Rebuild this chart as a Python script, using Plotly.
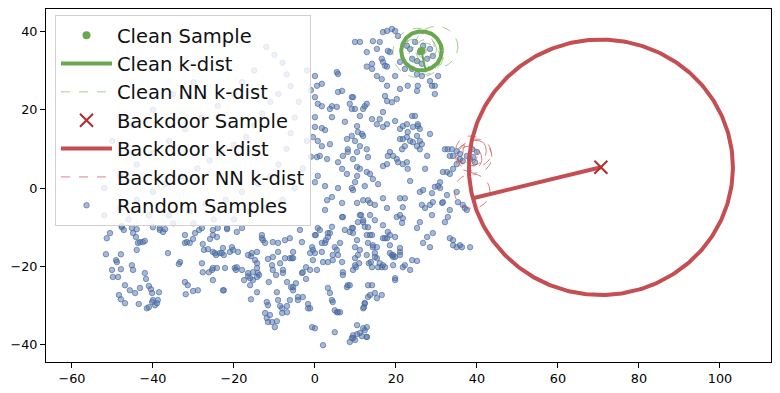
import numpy as np
import plotly.graph_objects as go

# ---------------- data ----------------
random_samples = [
    # lower-left cluster
    (-51.6,-16.9),(-50.1,-20.9),(-49.9,-22.7),(-48.6,-22.7),(-49.1,-18.4),(-48.9,-18.9),(-47.9,-16.9),
    (-47.9,-20.7),(-46.9,-24.8),(-45.7,-26.1),(-44.4,-26.8),(-48.4,-27.3),(-47.9,-28.4),(-46.9,-29.4),
    (-45.2,-19.7),(-44.9,-20.9),(-43.5,-29.6),(-43.2,-25.5),(-42.0,-21.7),(-41.7,-23.2),(-41.0,-25.0),
    (-40.5,-25.8),(-40.2,-26.8),(-41.5,-30.7),(-41.0,-30.4),(-40.2,-29.1),(-40.0,-28.6),(-39.5,-29.9),
    (-39.0,-29.4),(-38.8,-28.6),(-38.5,-26.6),(-51.4,-12.8),(-50.6,-11.5),(-47.7,-9.7),(-47.2,-10.7),
    (-44.9,-11.5),(-44.2,-12.5),(-44.0,-10.5),(-43.7,-14.0),(-43.2,-13.8),(-42.5,-13.8),(-42.0,-13.5),
    (-44.0,-15.8),(-38.3,-10.7),(-37.5,-11.2),(-37.0,-10.5),(-36.3,-16.6),(-33.3,-18.9),(-33.6,-19.4),
    (-32.1,-12.0),(-32.1,-14.0),(-31.6,-13.8),(-30.9,-14.0),(-29.6,-11.5),(-30.1,-13.0),(-32.1,-24.0),
    (-31.4,-24.8),(-31.9,-27.1),(-30.1,-26.3),(-28.9,-26.1),(-28.6,-10.7),(-27.9,-10.2),(-27.7,-14.3),
    (-27.4,-15.8),(-27.9,-19.2),(-27.7,-21.5),(-25.9,-13.0),(-25.2,-10.7),(-25.2,-12.0),(-26.4,-15.6),
    (-25.2,-16.3),(-24.4,-17.1),(-25.4,-20.9),(-26.2,-21.5),(-25.2,-20.4),(-24.2,-20.4),(-25.2,-23.5),
    (-23.5,-16.6),(-22.5,-17.1),(-21.7,-10.5),(-21.0,-16.3),(-20.2,-15.8),(-19.8,-20.4),(-19.5,-20.9),
    (-22.5,-26.1),(-19.3,-11.2),(-19.0,-16.3),(-47.7,-10.0),(-45.2,-10.2),(-38.3,-10.2),(-24.2,-12.5),
    # lower-middle
    (-15.8,-17.4),(-14.8,-18.4),(-14.3,-19.2),(-14.3,-20.4),(-15.3,-21.5),(-17.5,-23.5),(-16.5,-22.5),
    (-15.3,-23.5),(-16.0,-24.8),(-15.8,-28.4),(-14.3,-26.6),(-14.1,-21.7),(-13.8,-22.2),(-13.1,-12.0),
    (-12.8,-13.3),(-12.3,-14.0),(-11.6,-18.1),(-10.4,-17.6),(-10.6,-19.7),(-10.4,-20.9),(-9.6,-22.2),
    (-11.4,-24.0),(-11.9,-29.1),(-11.6,-29.9),(-12.3,-31.9),(-11.9,-33.2),(-11.1,-32.4),(-10.6,-34.2),
    (-11.6,-34.2),(-9.9,-35.5),(-9.4,-34.0),(-10.4,-13.8),(-9.4,-26.6),(-9.1,-28.6),(-8.6,-30.1),
    (-8.1,-30.7),(-8.1,-31.9),(-9.1,-16.3),(-8.6,-19.2),(-7.9,-20.9),(-7.9,-21.7),(-7.4,-17.9),
    (-6.9,-24.0),(-6.9,-30.1),(-6.9,-31.7),(-6.2,-28.6),(-6.2,-17.9),(-5.7,-17.9),(-5.4,-17.9),
    (-5.4,-16.3),(-5.9,-25.3),(-5.4,-25.3),(-5.4,-26.1),(-4.7,-24.3),(-4.2,-27.8),(-4.2,-28.6),
    (-3.7,-10.7),(-3.2,-13.8),(-3.0,-27.8),(-3.2,-21.7),(-3.0,-21.5),(-2.2,-23.2),(-2.2,-20.2),
    (-1.7,-29.6),(-1.7,-30.7),(-1.2,-30.7),(-1.2,-20.9),(-0.7,-35.5),(0.0,-35.8),(-1.2,-16.6),
    (-0.7,-15.1),(-0.5,-18.4),(-0.5,-15.8),(0.0,-16.6),(0.2,-12.0),(0.7,-10.2),(1.2,-10.7),(1.7,-14.0),
    (1.7,-16.3),(2.0,-18.9),(2.5,-14.0),(2.7,-13.3),(3.2,-12.5),(3.7,-11.5),(4.2,-9.9),(4.4,-17.1),
    (0.5,-20.9),(2.0,-40.1),(-24.0,-10.2),(-21.7,-10.2),(-18.0,-10.2),(-13.1,-12.8),(-9.1,-14.0),
    (-7.4,-13.3),(-6.2,-12.8),(0.0,-12.0),(3.2,-11.5),(-24.7,-16.6),(-23.0,-16.6),(-22.7,-15.3),
    (-20.5,-15.1),(-22.2,-20.4),(-19.3,-20.2),(-18.0,-20.9),(-16.5,-21.7),(-16.0,-23.0),(-14.3,-22.7),
    (-15.6,-16.6),(-14.3,-16.3),(-16.5,-17.1),(-22.7,-26.1),
    # lower-right
    (3.2,-25.5),(3.7,-26.8),(4.2,-28.6),(4.4,-29.1),(4.9,-31.2),(5.4,-31.7),(5.7,-31.7),(6.2,-31.7),
    (4.9,-36.8),(3.2,-18.9),(4.4,-18.4),(4.9,-15.1),(5.4,-15.8),(5.7,-17.1),(6.2,-14.0),(6.7,-18.9),
    (6.9,-21.5),(6.9,-22.2),(6.9,-7.4),(7.4,-10.7),(7.9,-25.3),(8.1,-24.8),(9.1,-10.2),(9.4,-11.5),
    (9.9,-17.9),(10.9,-19.2),(9.4,-20.9),(10.1,-20.2),(10.6,-17.1),(10.4,-13.3),(11.4,-6.9),(11.9,-8.7),
    (12.3,-9.9),(12.8,-12.0),(13.1,-14.0),(13.3,-19.2),(13.8,-18.9),(11.1,-37.0),(9.4,-37.6),(9.9,-38.8),
    (9.4,-38.3),(10.4,-37.3),(11.6,-37.8),(12.3,-36.3),(12.8,-38.0),(12.1,-30.4),(12.3,-29.4),
    (12.8,-35.5),(13.1,-27.8),(13.6,-27.3),(14.1,-20.2),(14.3,-15.1),(14.8,-16.6),(15.3,-17.9),
    (15.6,-20.2),(16.0,-19.2),(16.5,-20.2),(16.8,-19.7),(17.3,-20.2),(18.0,-11.2),(17.8,-12.8),
    (18.5,-12.0),(19.0,-17.1),(19.3,-17.6),(19.8,-23.0),(20.2,-7.4),
    (9.4,-0.5),(10.4,-3.8),(11.9,-3.1),(13.1,-3.1),(13.6,-3.8),(14.8,-4.3),(11.1,-6.9),(11.9,-8.2),
    (10.6,-8.7),(9.4,-10.2),(8.6,-11.2),(13.1,-10.0),(13.6,-12.0),(14.1,-12.0),(13.6,-6.9),(14.8,-8.2),
    (16.8,-2.6),(17.8,-5.1),(16.8,-9.5),(19.8,-12.5),(16.8,-12.8),(17.3,-12.8),(9.9,-15.1),(11.1,-15.8),
    (12.8,-17.1),(14.8,-17.6),(9.9,-19.7),(8.6,-24.8),(14.3,-14.6),(15.3,-15.1),(18.5,-14.6),
    (18.5,-16.6),(19.3,-17.1),(19.8,-17.6),(21.0,-16.3),(21.0,-17.1),(19.3,-19.7),(21.0,-15.3),
    (21.7,-20.2),(23.5,-20.9),(24.0,-18.4),(25.2,-18.6),(22.2,-19.7),(19.8,-23.5),(13.1,-24.8),
    (14.1,-24.8),(14.8,-26.8),(15.3,-28.1),(16.5,-27.3),(12.3,-29.4),(11.9,-30.7),(10.4,-35.0),
    (11.9,-35.8),(12.8,-38.0),(9.1,-38.3),(8.6,-39.3),(21.0,-6.9),(21.5,-8.9),(21.7,-7.7),
    (25.9,-1.0),(26.4,-4.3),(27.2,-5.1),(28.4,-4.3),(29.1,-3.6),(28.9,-6.9),(27.7,-12.5),(26.7,-14.0),
    (28.4,-15.1),(29.1,-11.5),(25.9,-8.7),(25.2,-10.2),(22.2,-2.6),(21.7,-4.9),(21.0,-2.6),(26.7,-0.5),
    (28.9,-1.3),(29.6,0.3),(30.9,0.0),(31.6,-3.6),(31.4,-3.8),(32.6,-1.8),(33.3,-5.6),(32.8,-7.4),
    (32.1,-8.7),(33.3,-12.8),(34.1,-13.3),(34.1,-14.6),(35.0,-15.1),(35.8,-14.6),(36.3,-15.1),
    (38.3,-15.1),(35.3,-3.6),(36.5,-4.3),(37.0,-5.1),(37.5,-5.6),(35.0,-1.0),
    (5.7,0.0),(4.2,-2.3),(3.0,-3.1),(2.5,-5.6),(6.7,-3.8),(6.7,-7.4),(9.1,0.0),
    # upper-right cloud
    (9.9,37.3),(11.1,37.3),(12.8,34.7),(14.3,37.5),(16.0,37.3),(15.3,35.5),(16.8,39.8),(17.8,40.1),
    (19.0,40.6),(19.8,40.1),(20.5,38.8),(18.5,34.7),(18.0,35.0),(16.5,33.0),(16.8,32.2),(17.3,31.2),
    (17.8,31.0),(14.1,31.7),(12.8,31.0),(14.1,30.4),(15.3,28.6),(16.5,27.8),(19.8,28.6),(21.0,32.2),
    (22.2,30.4),(24.0,30.4),(25.2,29.1),(26.4,28.6),(28.4,27.3),(28.9,26.1),(29.6,26.1),(30.4,28.6),
    (29.6,24.0),(25.2,24.8),(25.4,26.1),(22.9,26.1),(21.0,25.3),(20.2,22.7),(19.0,21.9),(17.8,22.2),
    (17.3,23.5),(17.8,26.1),(9.4,23.2),(8.6,21.5),(9.9,20.2),(11.1,18.4),(11.9,20.2),(12.3,20.9),
    (12.8,21.5),(14.1,17.6),(15.3,16.3),(16.0,17.6),(16.8,19.4),(16.8,15.6),(17.8,16.3),(19.8,17.1),
    (21.0,15.1),(21.7,15.8),(22.7,16.3),(24.0,18.4),(24.7,18.4),(25.4,15.8),(25.9,15.1),(28.4,13.8),
    (10.4,15.8),(10.6,14.3),(11.6,13.8),(11.9,13.3),(9.9,12.0),(11.1,10.7),(10.4,9.2),(12.8,9.9),
    (13.1,7.9),(9.4,7.4),(10.4,5.4),(11.1,4.9),(12.8,4.1),(13.6,3.6),(14.3,2.3),(10.4,3.1),(9.9,1.5),
    (12.3,0.5),(15.6,1.0),(16.8,5.6),(17.8,6.1),(18.0,8.2),(18.5,9.2),(19.3,8.2),(20.2,7.4),(20.5,6.6),
    (21.7,6.1),(22.7,6.6),(22.9,4.9),(23.5,1.8),(21.5,9.9),(22.2,10.7),(23.5,12.0),(24.2,11.7),
    (25.2,10.7),(25.9,12.0),(25.2,13.3),(22.7,13.0),(21.7,12.5),(21.0,12.5),(22.9,14.3),(24.2,15.6),
    (25.4,16.3),(27.7,8.2),(25.9,9.9),(26.4,11.2),(27.2,4.9),
    (32.1,9.9),(32.8,9.9),(33.8,9.9),(33.3,8.2),(34.1,8.2),(35.0,9.4),(35.8,8.7),(35.0,6.1),(35.8,7.4),
    (36.5,6.9),(31.6,4.1),(32.6,4.1),(33.3,3.6),(34.1,4.9),(30.9,1.5),(30.4,0.5),
    (37.5,8.2),(38.3,7.4),(39.0,7.9),(39.5,6.6),(40.0,9.2),(38.8,9.9),
    (22.7,36.3),(23.5,35.5),(24.7,37.3),(25.9,34.7),(26.7,36.3),(25.2,32.4),(24.0,33.0),(27.7,33.0),
    (28.4,35.5),(26.4,31.7),(29.1,33.7),
    # just right of the legend
    (0.0,28.6),(0.5,26.1),(1.7,26.6),(0.0,23.2),(0.7,21.5),(1.7,20.9),(4.2,20.9),(5.7,24.5),(3.7,20.2),
    (5.4,20.7),(6.7,24.8),(0.0,18.1),(4.2,18.1),(7.4,16.9),(0.0,15.6),(1.7,15.3),(2.5,14.8),(-0.5,13.0),
    (0.7,12.0),(1.7,10.7),(3.7,11.2),(7.9,12.5),(9.1,13.3),(8.1,9.9),(1.2,8.2),(3.0,7.4),(0.5,7.9),
    (5.7,6.6),(6.9,8.2),(8.1,9.2),(0.7,3.1),(6.7,4.9),(7.9,3.6),(0.0,1.5),(2.5,0.5),(5.7,29.1),
    (5.4,29.6),(9.1,23.2),(9.1,20.2),
    # under the legend (seen faintly)
    (-12,36),(-10,34),(-8,32),(-7,29),(-6,26),(-9,24),(-11,22),(-13,19),(-15,16),(-17,13),(-20,11),
    (-23,9),(-26,7),(-29,5),(-33,3),(-37,1),(-40,-1),(-44,-3),(-48,-5),(-52,-7),(-4,22),(-5,18),
    (-6,14),(-7,10),(-9,6),(-11,3),(-14,1),(-18,-1),(-22,-3),(-27,-4),(-31,-6),(-36,-7),(-41,-7),
    (-46,-8),(-2,30),(-1,25),(-3,5),(-5,0),(-8,-3),(-12,-5),(-16,-6),(-20,-8),(-25,-8),(-30,-9),
    (-35,-9),(-40,-10),(-15,30),(-18,27),(-20,24),(-24,21),(-28,18),(-32,15),(-36,12),(-40,9),
    (-44,6),(-48,3),(-52,0),(-30,27),(-35,24),(-40,20),(-45,16),(-50,12),(-2,12),(-1,8),
]

clean_sample = (26.3, 35.0)
clean_kdist = 5.0
clean_kdist_end = (27.3, 30.1)
clean_nn = [(30.0, 36.0, 5.3), (25.5, 34.5, 6.3), (27.0, 33.0, 4.0),
            (26.0, 36.0, 3.5), (24.5, 35.0, 3.0), (27.5, 35.5, 2.5)]

backdoor_sample = (70.6, 5.3)
backdoor_kdist = 32.6
backdoor_kdist_end = (39.0, -2.6)
backdoor_nn = [(38.5, 9.5, 3.8), (39.5, 8.0, 4.2), (38.0, 7.5, 3.2),
               (40.0, 9.0, 3.5), (37.5, 8.5, 2.6), (38.8, -0.8, 4.4)]

x_ticks = [-60, -40, -20, 0, 20, 40, 60, 80, 100]
y_ticks = [-40, -20, 0, 20, 40]

# ---------------- helpers ----------------
def circle(cx, cy, r, n=181):
    t = np.linspace(0, 2 * np.pi, n)
    return list(cx + r * np.cos(t)), list(cy + r * np.sin(t))

def circles(lst):
    xs, ys = [], []
    for cx, cy, r in lst:
        cxs, cys = circle(cx, cy, r)
        xs += cxs + [None]
        ys += cys + [None]
    return xs, ys

GREEN = "#6aa84f"
RED = "#c44e52"
FONT = "DejaVu Sans"

fig = go.Figure()

rx = [p[0] for p in random_samples]
ry = [p[1] for p in random_samples]
fig.add_trace(go.Scatter(
    x=rx, y=ry, mode="markers", name="Random Samples", legendrank=7,
    marker=dict(size=5.5, color="rgba(76,114,176,0.5)",
                line=dict(color="rgba(70,100,150,0.6)", width=1)),
))

# clean NN circles
cx, cy = circles(clean_nn)
fig.add_trace(go.Scatter(x=cx, y=cy, mode="lines", name="Clean NN k-dist", legendrank=3,
                         line=dict(color="rgba(106,168,79,0.6)", width=1, dash="dash")))
# clean k-dist
kx, ky = circle(clean_sample[0], clean_sample[1], clean_kdist)
fig.add_trace(go.Scatter(x=kx, y=ky, mode="lines", name="Clean k-dist", legendrank=2,
                         legendgroup="ck", line=dict(color=GREEN, width=4)))
fig.add_trace(go.Scatter(x=[clean_sample[0], clean_kdist_end[0]],
                         y=[clean_sample[1], clean_kdist_end[1]], mode="lines",
                         showlegend=False, legendgroup="ck", line=dict(color=GREEN, width=2)))
# backdoor NN circles
bx, by = circles(backdoor_nn)
fig.add_trace(go.Scatter(x=bx, y=by, mode="lines", name="Backdoor NN k-dist", legendrank=6,
                         line=dict(color="rgba(196,78,82,0.7)", width=1, dash="dash")))
# backdoor k-dist
kx, ky = circle(backdoor_sample[0], backdoor_sample[1], backdoor_kdist, 361)
fig.add_trace(go.Scatter(x=kx, y=ky, mode="lines", name="Backdoor k-dist", legendrank=5,
                         legendgroup="bk", line=dict(color=RED, width=4)))
fig.add_trace(go.Scatter(x=[backdoor_sample[0], backdoor_kdist_end[0]],
                         y=[backdoor_sample[1], backdoor_kdist_end[1]], mode="lines",
                         showlegend=False, legendgroup="bk", line=dict(color=RED, width=4)))
# samples
fig.add_trace(go.Scatter(x=[clean_sample[0]], y=[clean_sample[1]], mode="markers",
                         name="Clean Sample", legendrank=1,
                         marker=dict(size=8, color=GREEN)))
fig.add_trace(go.Scatter(x=[backdoor_sample[0]], y=[backdoor_sample[1]], mode="markers",
                         name="Backdoor Sample", legendrank=4,
                         marker=dict(size=13, symbol="x-thin",
                                     line=dict(color="#b22c30", width=2), color="#b22c30")))

axis_common = dict(showgrid=False, zeroline=False, showline=True, linecolor="black",
                   linewidth=1, mirror=True, ticks="outside", ticklen=5, tickwidth=1,
                   tickcolor="black", automargin=False,
                   tickfont=dict(family=FONT, size=12.8, color="black"))
fig.update_xaxes(range=[-66.4, 112.6], tickvals=x_ticks, **axis_common)
fig.update_yaxes(range=[-44.4, 45.7], tickvals=y_ticks, **axis_common)

fig.update_layout(
    width=780, height=393,
    margin=dict(l=46, r=9, t=9, b=31),
    paper_bgcolor="white", plot_bgcolor="white",
    font=dict(family=FONT, size=19.5, color="black"),
    legend=dict(x=0.0124, y=0.983, xanchor="left", yanchor="top",
                bgcolor="rgba(255,255,255,0.8)", bordercolor="#d0d0d0", borderwidth=1,
                traceorder="normal", itemwidth=51,
                font=dict(family=FONT, size=19.5, color="#111111")),
)

fig.write_html("out.html", config={"displayModeBar": False},
               post_script="document.body.style.margin='0';")
